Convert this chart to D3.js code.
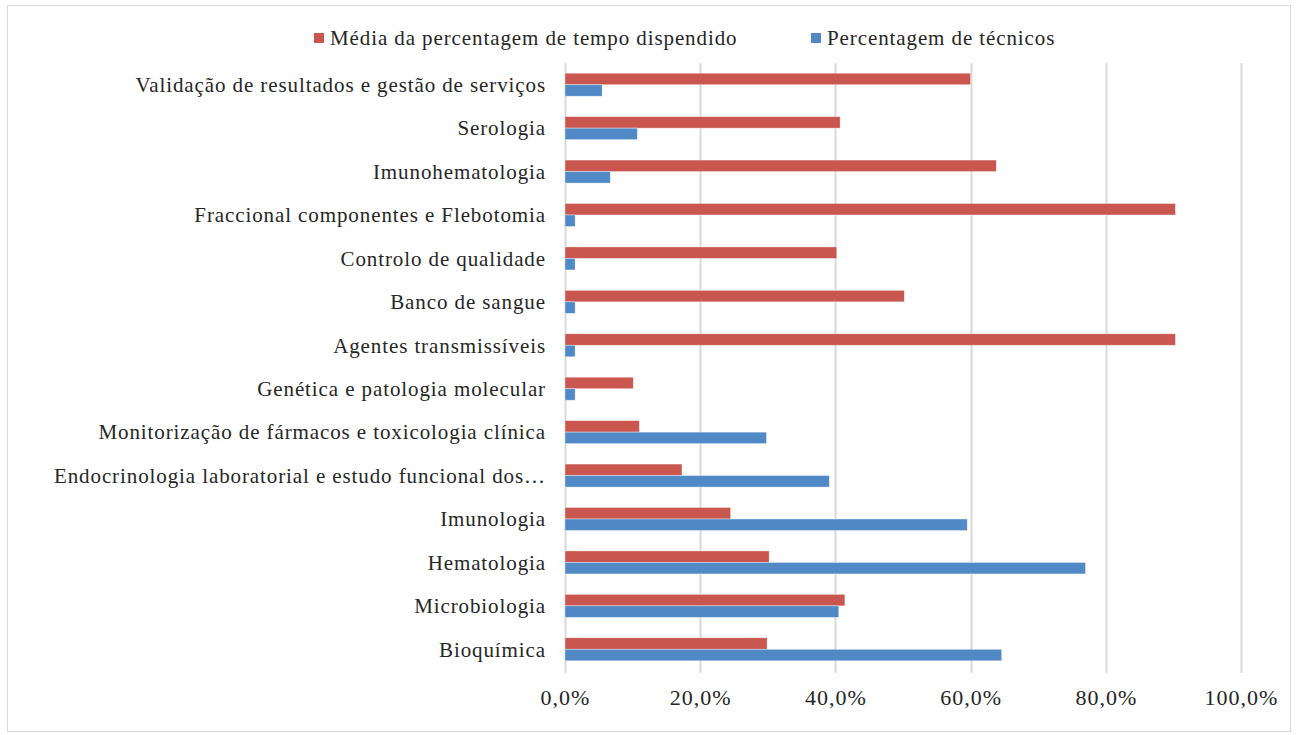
<!DOCTYPE html>
<html><head><meta charset="utf-8">
<script src="https://cdn.jsdelivr.net/npm/d3@7"></script>
<style>body{margin:0;background:#fff}svg{display:block}</style>
</head><body><div id="chart"></div>
<script>
const categories = [
  "Validação de resultados e gestão de serviços",
  "Serologia",
  "Imunohematologia",
  "Fraccional componentes e Flebotomia",
  "Controlo de qualidade",
  "Banco de sangue",
  "Agentes transmissíveis",
  "Genética e patologia molecular",
  "Monitorização de fármacos e toxicologia clínica",
  "Endocrinologia laboratorial e estudo funcional dos…",
  "Imunologia",
  "Hematologia",
  "Microbiologia",
  "Bioquímica"
];
const seriesNames = ["Média da percentagem de tempo dispendido", "Percentagem de técnicos"];
const tempoValues = [60.0, 40.7, 63.8, 90.3, 40.2, 50.2, 90.3, 10.1, 11.0, 17.3, 24.5, 30.2, 41.4, 29.9];
const tecnicosValues = [5.5, 10.7, 6.7, 1.5, 1.5, 1.5, 1.5, 1.5, 29.8, 39.1, 59.5, 77.0, 40.5, 64.6];
const tickValues = [0, 20, 40, 60, 80, 100];
const colors = ["#C9574F", "#5089C6"];

const W = 1297, H = 735;
const m = {left: 565, right: 56, top: 63, bottom: 64};
const FONT = "'Liberation Serif', 'Times New Roman', serif";
const svg = d3.select("#chart").append("svg").attr("width", W).attr("height", H)
  .style("font-family", FONT);

svg.append("rect").attr("x", 7.5).attr("y", 5.5).attr("width", 1283).attr("height", 726)
  .attr("fill", "#fff").attr("stroke", "#D9D9D9").attr("stroke-width", 1);

const x = d3.scaleLinear().domain([0, 100]).range([m.left, W - m.right]);
const y = d3.scaleBand().domain(categories).range([m.top, H - m.bottom]).paddingInner(0.47).paddingOuter(0.235);
const ySub = d3.scaleBand().domain([0, 1]).range([0, y.bandwidth()]);

// gridlines
svg.append("g").selectAll("line").data(tickValues).join("line")
  .attr("x1", d => Math.round(x(d)) + 0.5).attr("x2", d => Math.round(x(d)) + 0.5)
  .attr("y1", m.top).attr("y2", H - m.bottom + 2)
  .attr("stroke", "#D9D9D9").attr("stroke-width", 2);

// bars
const data = categories.map((c, i) => ({c, vals: [tempoValues[i], tecnicosValues[i]]}));
const g = svg.append("g");
data.forEach(d => {
  d.vals.forEach((v, s) => {
    g.append("rect")
      .attr("x", x(0))
      .attr("y", y(d.c) + ySub(s))
      .attr("width", x(v) - x(0))
      .attr("height", ySub.bandwidth())
      .attr("fill", colors[s])
      .attr("stroke", "#fff").attr("stroke-opacity", 0.5).attr("stroke-width", 0.75);
  });
});

// y axis labels
svg.append("g").selectAll("text").data(categories).join("text")
  .attr("x", m.left - 19)
  .attr("y", d => y(d) + y.bandwidth() / 2)
  .attr("dy", "0.35em")
  .attr("text-anchor", "end")
  .attr("font-size", 21)
  .attr("letter-spacing", 0.9)
  .attr("fill", "#262626")
  .text(d => d);

// x axis labels
const xAxis = d3.axisBottom(x).tickValues(tickValues)
  .tickFormat(d => d3.format(".1f")(d).replace(".", ",") + "%").tickSize(0).tickPadding(18);
const xa = svg.append("g").attr("transform", `translate(0,${H - m.bottom})`).call(xAxis);
xa.select(".domain").remove();
xa.selectAll("text").attr("font-size", 22).attr("letter-spacing", 1).attr("fill", "#262626")
  .style("font-family", FONT);

// legend
const legend = svg.append("g");
const legItems = [{x: 314, name: seriesNames[0], col: colors[0]}, {x: 811, name: seriesNames[1], col: colors[1]}];
legItems.forEach(it => {
  legend.append("rect").attr("x", it.x).attr("y", 33).attr("width", 10).attr("height", 10).attr("fill", it.col);
  legend.append("text").attr("x", it.x + 16).attr("y", 38).attr("dy", "0.35em")
    .attr("font-size", 21).attr("letter-spacing", 0.9).attr("fill", "#262626").text(it.name);
});
</script></body></html>
